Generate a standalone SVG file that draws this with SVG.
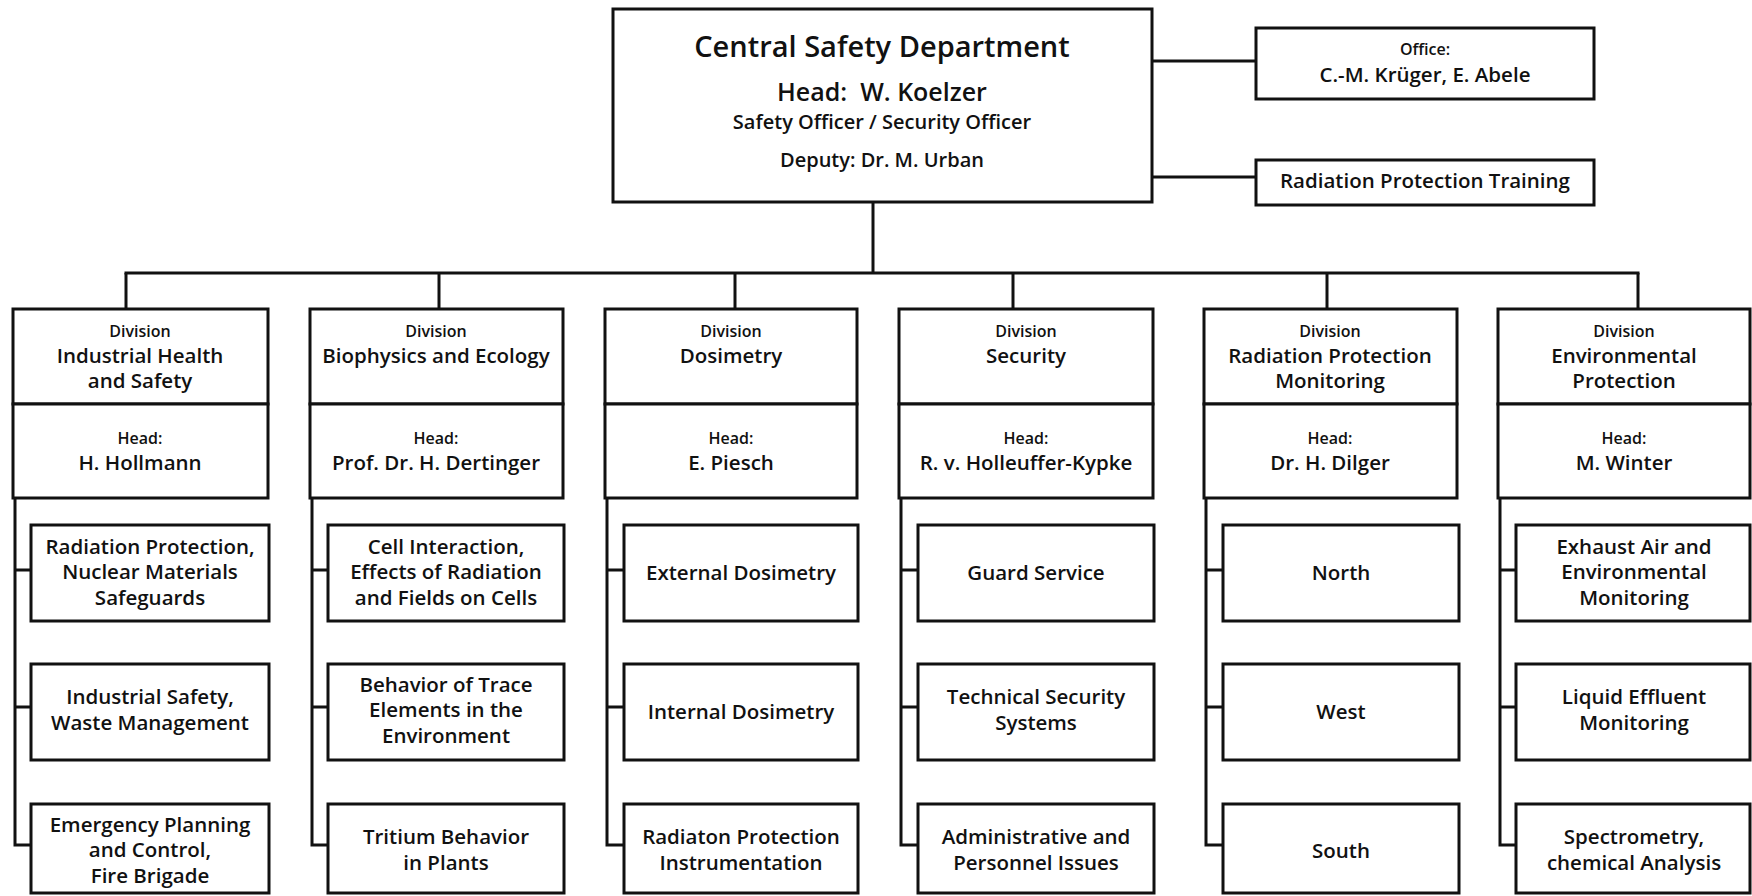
<svg xmlns="http://www.w3.org/2000/svg" width="1752" height="896" viewBox="0 0 1752 896">
<style>
rect.b{fill:#fff;stroke:#111;stroke-width:3}
.c line,.c path{stroke:#111;stroke-width:3;fill:none}
text{font-family:"Open Sans","Noto Sans","Liberation Sans",sans-serif;fill:#111;text-anchor:middle;font-weight:600}
.s{font-size:16px}
.m{font-size:20.5px}
</style>
<rect width="1752" height="896" fill="#fff"/>
<g class="c" id="connectors">
<line x1="1152" y1="61" x2="1256" y2="61"/>
<line x1="1152" y1="177" x2="1256" y2="177"/>
<line x1="873" y1="202" x2="873" y2="273"/>
<line x1="124.5" y1="273" x2="1639.5" y2="273"/>
<line x1="126" y1="273" x2="126" y2="309"/>
<line x1="439" y1="273" x2="439" y2="309"/>
<line x1="735" y1="273" x2="735" y2="309"/>
<line x1="1013" y1="273" x2="1013" y2="309"/>
<line x1="1327" y1="273" x2="1327" y2="309"/>
<line x1="1638" y1="273" x2="1638" y2="309"/>
<path d="M15 498V845H31M15 570H31M15 707H31"/>
<path d="M312 498V845H328M312 570H328M312 707H328"/>
<path d="M607 498V845H624M607 570H624M607 707H624"/>
<path d="M901 498V845H918M901 570H918M901 707H918"/>
<path d="M1206 498V845H1223M1206 570H1223M1206 707H1223"/>
<path d="M1500 498V845H1516M1500 570H1516M1500 707H1516"/>
</g>
<g id="central">
<rect class="b" x="613" y="9" width="539" height="193"/>
<text x="882" y="57" style="font-size:29px">Central Safety Department</text>
<text x="882" y="101" style="font-size:25px">Head:&#160; W. Koelzer</text>
<text x="882" y="129" style="font-size:20px">Safety Officer / Security Officer</text>
<text x="882" y="167" style="font-size:20px">Deputy: Dr. M. Urban</text>
</g>
<g id="office">
<rect class="b" x="1256" y="28" width="338" height="71"/>
<text class="s" x="1425" y="55">Office:</text>
<text class="m" x="1425" y="82">C.-M. Krüger, E. Abele</text>
</g>
<g id="training">
<rect class="b" x="1256" y="160" width="338" height="45"/>
<text class="m" x="1425" y="188">Radiation Protection Training</text>
</g>
<g id="div1">
<rect class="b" x="13" y="309" width="255" height="95"/>
<rect class="b" x="13" y="404" width="255" height="94"/>
<text class="s" x="140" y="337">Division</text>
<text class="m" x="140" y="363">Industrial Health</text>
<text class="m" x="140" y="388">and Safety</text>
<text class="s" x="140" y="444">Head:</text>
<text class="m" x="140" y="470">H. Hollmann</text>
</g>
<g id="div2">
<rect class="b" x="310" y="309" width="253" height="95"/>
<rect class="b" x="310" y="404" width="253" height="94"/>
<text class="s" x="436" y="337">Division</text>
<text class="m" x="436" y="363">Biophysics and Ecology</text>
<text class="s" x="436" y="444">Head:</text>
<text class="m" x="436" y="470">Prof. Dr. H. Dertinger</text>
</g>
<g id="div3">
<rect class="b" x="605" y="309" width="252" height="95"/>
<rect class="b" x="605" y="404" width="252" height="94"/>
<text class="s" x="731" y="337">Division</text>
<text class="m" x="731" y="363">Dosimetry</text>
<text class="s" x="731" y="444">Head:</text>
<text class="m" x="731" y="470">E. Piesch</text>
</g>
<g id="div4">
<rect class="b" x="899" y="309" width="254" height="95"/>
<rect class="b" x="899" y="404" width="254" height="94"/>
<text class="s" x="1026" y="337">Division</text>
<text class="m" x="1026" y="363">Security</text>
<text class="s" x="1026" y="444">Head:</text>
<text class="m" x="1026" y="470">R. v. Holleuffer-Kypke</text>
</g>
<g id="div5">
<rect class="b" x="1204" y="309" width="253" height="95"/>
<rect class="b" x="1204" y="404" width="253" height="94"/>
<text class="s" x="1330" y="337">Division</text>
<text class="m" x="1330" y="363">Radiation Protection</text>
<text class="m" x="1330" y="388">Monitoring</text>
<text class="s" x="1330" y="444">Head:</text>
<text class="m" x="1330" y="470">Dr. H. Dilger</text>
</g>
<g id="div6">
<rect class="b" x="1498" y="309" width="252" height="95"/>
<rect class="b" x="1498" y="404" width="252" height="94"/>
<text class="s" x="1624" y="337">Division</text>
<text class="m" x="1624" y="363">Environmental</text>
<text class="m" x="1624" y="388">Protection</text>
<text class="s" x="1624" y="444">Head:</text>
<text class="m" x="1624" y="470">M. Winter</text>
</g>
<g id="u1a"><rect class="b" x="31" y="525" width="238" height="96"/>
<text class="m" x="150" y="553.5">Radiation Protection,</text>
<text class="m" x="150" y="579">Nuclear Materials</text>
<text class="m" x="150" y="604.5">Safeguards</text></g>
<g id="u1b"><rect class="b" x="31" y="664" width="238" height="96"/>
<text class="m" x="150" y="704">Industrial Safety,</text>
<text class="m" x="150" y="730">Waste Management</text></g>
<g id="u1c"><rect class="b" x="31" y="804" width="238" height="89"/>
<text class="m" x="150" y="831.5">Emergency Planning</text>
<text class="m" x="150" y="857">and Control,</text>
<text class="m" x="150" y="882.5">Fire Brigade</text></g>
<g id="u2a"><rect class="b" x="328" y="525" width="236" height="96"/>
<text class="m" x="446" y="553.5">Cell Interaction,</text>
<text class="m" x="446" y="579">Effects of Radiation</text>
<text class="m" x="446" y="604.5">and Fields on Cells</text></g>
<g id="u2b"><rect class="b" x="328" y="664" width="236" height="96"/>
<text class="m" x="446" y="691.5">Behavior of Trace</text>
<text class="m" x="446" y="717">Elements in the</text>
<text class="m" x="446" y="742.5">Environment</text></g>
<g id="u2c"><rect class="b" x="328" y="804" width="236" height="89"/>
<text class="m" x="446" y="844">Tritium Behavior</text>
<text class="m" x="446" y="870">in Plants</text></g>
<g id="u3a"><rect class="b" x="624" y="525" width="234" height="96"/>
<text class="m" x="741" y="580">External Dosimetry</text></g>
<g id="u3b"><rect class="b" x="624" y="664" width="234" height="96"/>
<text class="m" x="741" y="719">Internal Dosimetry</text></g>
<g id="u3c"><rect class="b" x="624" y="804" width="234" height="89"/>
<text class="m" x="741" y="844">Radiaton Protection</text>
<text class="m" x="741" y="870">Instrumentation</text></g>
<g id="u4a"><rect class="b" x="918" y="525" width="236" height="96"/>
<text class="m" x="1036" y="580">Guard Service</text></g>
<g id="u4b"><rect class="b" x="918" y="664" width="236" height="96"/>
<text class="m" x="1036" y="704">Technical Security</text>
<text class="m" x="1036" y="730">Systems</text></g>
<g id="u4c"><rect class="b" x="918" y="804" width="236" height="89"/>
<text class="m" x="1036" y="844">Administrative and</text>
<text class="m" x="1036" y="870">Personnel Issues</text></g>
<g id="u5a"><rect class="b" x="1223" y="525" width="236" height="96"/>
<text class="m" x="1341" y="580">North</text></g>
<g id="u5b"><rect class="b" x="1223" y="664" width="236" height="96"/>
<text class="m" x="1341" y="719">West</text></g>
<g id="u5c"><rect class="b" x="1223" y="804" width="236" height="89"/>
<text class="m" x="1341" y="858">South</text></g>
<g id="u6a"><rect class="b" x="1516" y="525" width="234" height="96"/>
<text class="m" x="1634" y="553.5">Exhaust Air and</text>
<text class="m" x="1634" y="579">Environmental</text>
<text class="m" x="1634" y="604.5">Monitoring</text></g>
<g id="u6b"><rect class="b" x="1516" y="664" width="234" height="96"/>
<text class="m" x="1634" y="704">Liquid Effluent</text>
<text class="m" x="1634" y="730">Monitoring</text></g>
<g id="u6c"><rect class="b" x="1516" y="804" width="234" height="89"/>
<text class="m" x="1634" y="844">Spectrometry,</text>
<text class="m" x="1634" y="870">chemical Analysis</text></g>
</svg>
